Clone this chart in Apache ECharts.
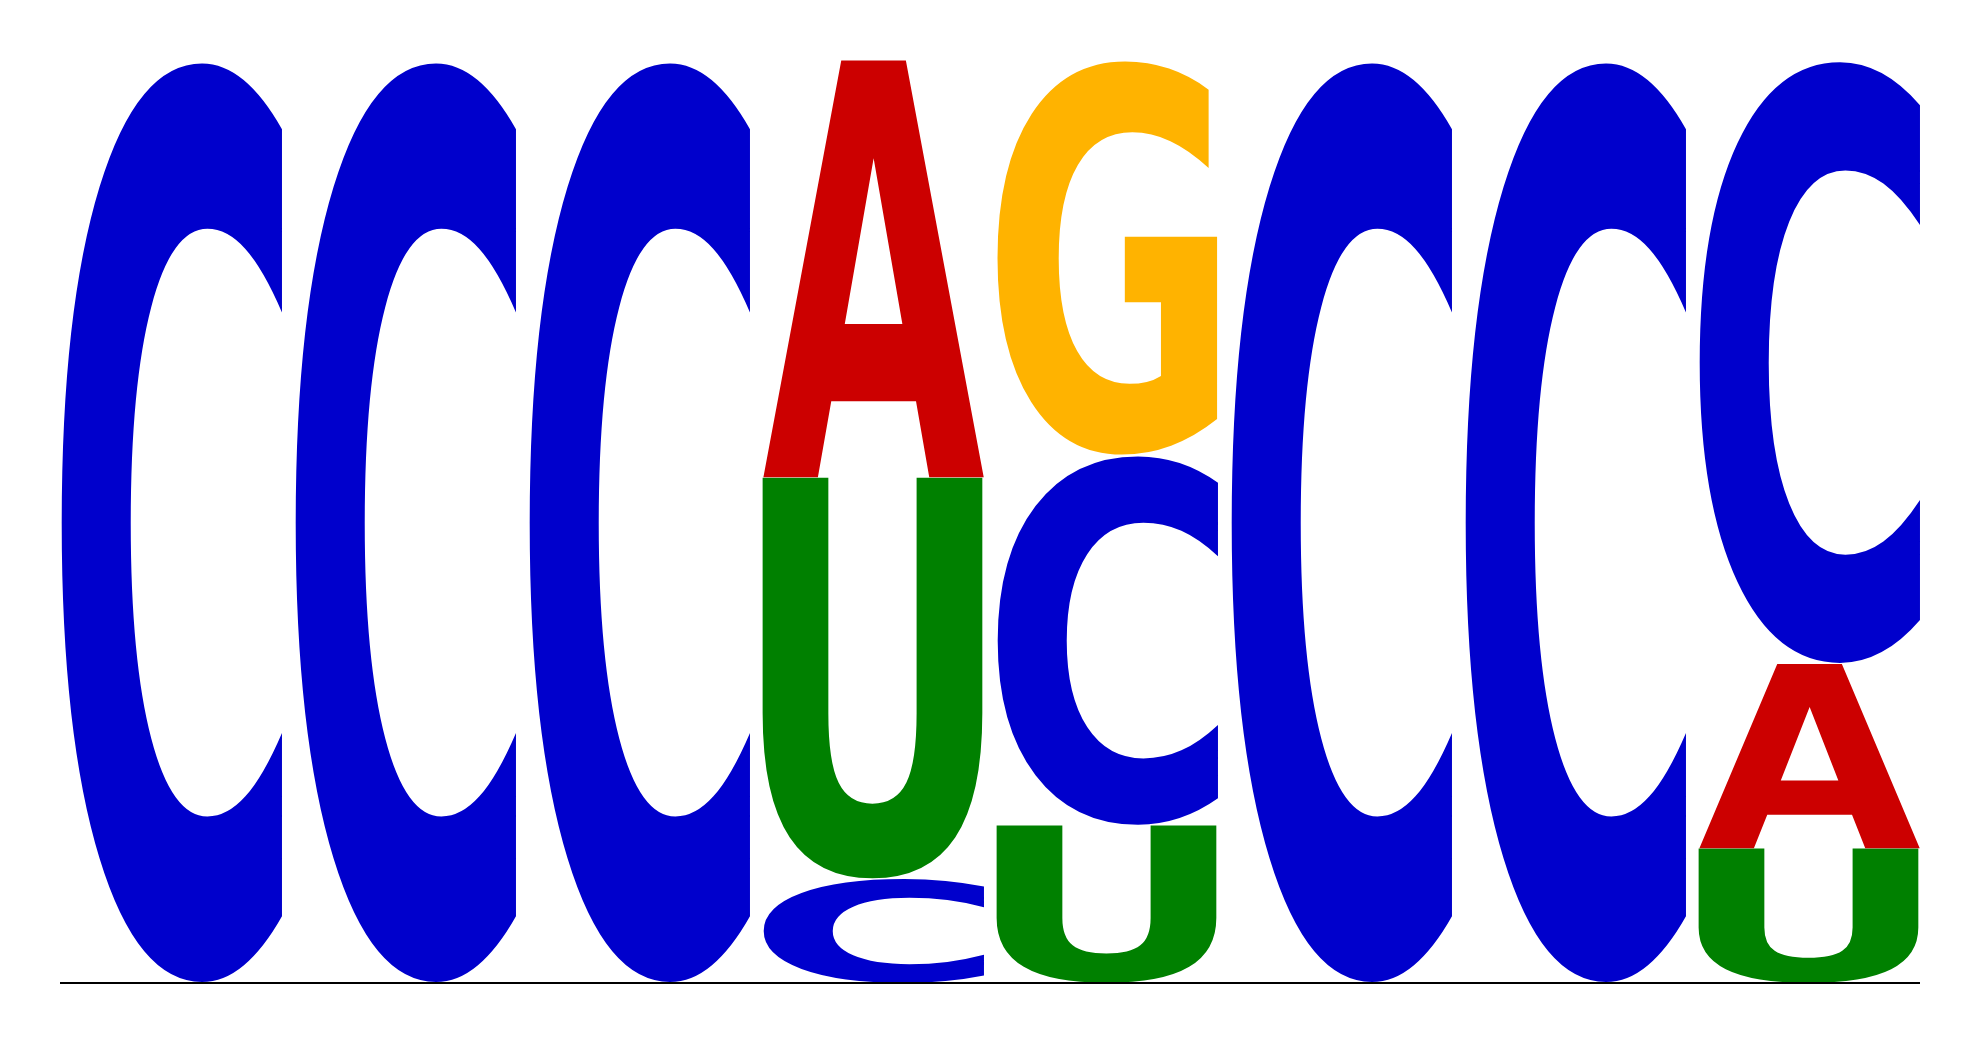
<!DOCTYPE html>
<html>
<head>
<meta charset="utf-8">
<title>Sequence logo</title>
<script src="https://cdn.jsdelivr.net/npm/echarts@6/dist/echarts.min.js"></script>
<style>
    html, body { margin: 0; padding: 0; background: #ffffff; }
    #main { width: 1980px; height: 1044px; }
</style>
</head>
<body>
<div id="main"></div>
<script>
var positions = [1, 2, 3, 4, 5, 6, 7, 8];
var bases     = ['A', 'C', 'G', 'U'];
var freqA     = [0, 0, 0, 0.452, 0,     0, 0, 0.200];
var freqC     = [1, 1, 1, 0.113, 0.401, 1, 1, 0.654];
var freqG     = [0, 0, 0, 0,     0.428, 0, 0, 0];
var freqU     = [0, 0, 0, 0.435, 0.171, 0, 0, 0.146];

var baseColors = {A: '#cc0000', C: '#0000cc', G: '#ffb300', U: '#008000'};
var FONT       = 'bold 200px "DejaVu Sans"';
var LETTER_W   = 222 / 234;

/* Measure the ink box of each glyph the same way zrender draws it (left / middle). */
var glyphBox = {};
(function()
{
    var ctx = document.createElement('canvas').getContext('2d');
    ctx.font         = FONT;
    ctx.textAlign    = 'left';
    ctx.textBaseline = 'middle';
    bases.forEach(function(b)
    {
        var m = ctx.measureText(b);
        glyphBox[b] = {left: m.actualBoundingBoxLeft, right: m.actualBoundingBoxRight, ascent: m.actualBoundingBoxAscent, descent: m.actualBoundingBoxDescent};
    });
})();

/* Stack the letters of each column, smallest at the bottom. */
var freqs = {A: freqA, C: freqC, G: freqG, U: freqU};
var stackData = [];
positions.forEach(function(pos, i)
{
    var items = bases.map(function(b){ return {base: b, f: freqs[b][i]}; }).filter(function(it){ return it.f > 0; });
    items.sort(function(a, b){ return a.f - b.f; });
    var y0 = 0;
    items.forEach(function(it)
    {
        stackData.push([i, y0, y0 + it.f, bases.indexOf(it.base)]);
        y0 += it.f;
    });
});

function renderLetter(params, api)
{
    var col  = api.value(0);
    var y0   = api.value(1);
    var y1   = api.value(2);
    var base = bases[api.value(3)];
    var topLeft = api.coord([col - LETTER_W / 2, y1]);
    var size    = api.size([LETTER_W, y1 - y0]);
    var box     = glyphBox[base];
    var sx = size[0] / (box.left + box.right);
    var sy = size[1] / (box.ascent + box.descent);
    return {
        type: 'text',
        x: topLeft[0] + box.left * sx,
        y: topLeft[1] + box.ascent * sy,
        scaleX: sx,
        scaleY: sy,
        style: {
            text: base,
            x: 0,
            y: 0,
            font: FONT,
            fill: baseColors[base],
            align: 'left',
            verticalAlign: 'middle',
            textAlign: 'left',
            textVerticalAlign: 'middle'
        }
    };
}

var chart = echarts.init(document.getElementById('main'), null, {renderer: 'canvas'});
chart.setOption({
    backgroundColor: '#ffffff',
    animation: false,
    grid: {left: 54, right: 54, top: 60, bottom: 61},
    xAxis: {type: 'value', min: -0.5, max: positions.length - 0.5, show: false},
    yAxis: {type: 'value', min: 0, max: 1, show: false},
    series: [
        {
            type: 'custom',
            renderItem: renderLetter,
            data: stackData,
            silent: true,
            clip: false
        },
        {
            type: 'line',
            data: [[-LETTER_W / 2, 0], [positions.length - 1 + LETTER_W / 2, 0]],
            symbol: 'none',
            silent: true,
            lineStyle: {color: '#000000', width: 2},
            z: 3
        }
    ]
});
</script>
</body>
</html>
